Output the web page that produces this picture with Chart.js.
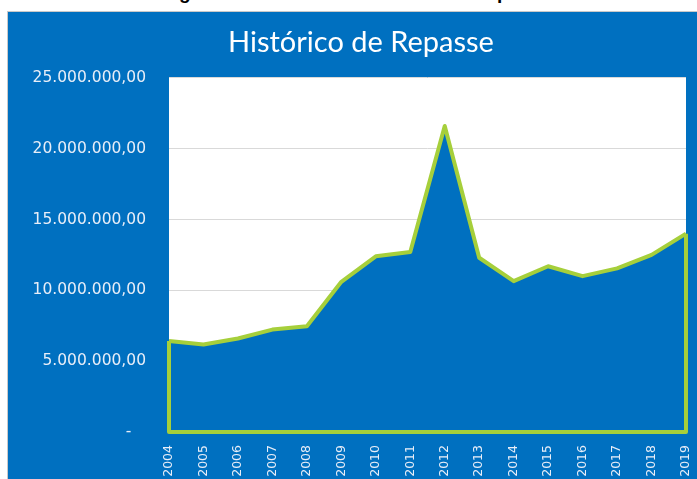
<!DOCTYPE html>
<html>
<head>
<meta charset="utf-8">
<script src="https://cdn.jsdelivr.net/npm/chart.js@4/dist/chart.umd.min.js"></script>
<style>
  body { margin: 0; background: #fff; width: 697px; height: 479px; overflow: hidden; position: relative; }
  #caption {
    position: absolute; left: 8px; width: 697px; top: -18px;
    text-align: center; font: bold 19px "Liberation Sans", Arial, sans-serif; color: #000;
  }
  #box {
    position: absolute; left: 7px; top: 11px; width: 707px; height: 468px;
    border-left: 1px solid #c9c9c9; border-top: 1px solid #c9c9c9; background: #0070c0;
  }
  #repasseChart { position: absolute; left: 0; top: 0; }
</style>
</head>
<body>
<div id="caption">Figura 1 – Gráfico do Histórico de Repasse</div>
<div id="box"><canvas id="repasseChart" width="706" height="467"></canvas></div>
<script>
// Valores (R$)
const years = ['2004', '2005', '2006', '2007', '2008', '2009', '2010', '2011',
               '2012', '2013', '2014', '2015', '2016', '2017', '2018', '2019'];
const repasse = [6430000, 6170000, 6600000, 7230000, 7460000, 10600000, 12400000, 12700000,
                 21600000, 12300000, 10650000, 11700000, 11000000, 11550000, 12500000, 14000000];
const yMax = 25000000;
const yStep = 5000000;

const blue = '#0070c0';
const green = '#a6cf3b';
const labelColor = '#e8eef8';

// 25000000 -> "25.000.000,00", zero vira "-"
function formatBRL(v) {
  if (v === 0) return '-   ';
  const s = Math.round(v).toString().replace(/\B(?=(\d{3})+(?!\d))/g, '.');
  return s + ',00';
}

// fundo branco só na área do gráfico
const plotBackground = {
  id: 'plotBackground',
  beforeDraw(chart) {
    const { ctx, chartArea } = chart;
    ctx.save();
    ctx.fillStyle = '#fff';
    ctx.fillRect(chartArea.left, chartArea.top, chartArea.right - chartArea.left, chartArea.bottom - chartArea.top);
    ctx.restore();
  }
};

// contorno da área: laterais e base, como no Excel
const areaOutline = {
  id: 'areaOutline',
  afterDatasetsDraw(chart) {
    const pts = chart.getDatasetMeta(0).data;
    if (!pts.length) return;
    const base = chart.scales.y.getPixelForValue(0);
    const first = pts[0], last = pts[pts.length - 1];
    const ctx = chart.ctx;
    ctx.save();
    ctx.strokeStyle = green;
    ctx.lineWidth = 4;
    ctx.lineJoin = 'round';
    ctx.beginPath();
    ctx.moveTo(first.x, first.y);
    ctx.lineTo(first.x, base);
    ctx.lineTo(last.x, base);
    ctx.lineTo(last.x, last.y);
    ctx.stroke();
    ctx.restore();
  }
};

const ctx = document.getElementById('repasseChart').getContext('2d');
new Chart(ctx, {
  type: 'line',
  data: {
    labels: years,
    datasets: [{
      label: 'Repasse',
      data: repasse,
      fill: 'origin',
      backgroundColor: blue,
      borderColor: green,
      borderWidth: 4,
      borderJoinStyle: 'round',
      pointRadius: 0,
      tension: 0
    }]
  },
  options: {
    responsive: false,
    animation: false,
    devicePixelRatio: 1,
    layout: { padding: 0 },
    plugins: {
      legend: { display: false },
      tooltip: { enabled: false },
      title: {
        display: true,
        text: 'Histórico de Repasse',
        color: '#ffffff',
        font: { family: 'Lato', size: 29, weight: 'normal' },
        padding: { top: 13, bottom: 18 }
      }
    },
    scales: {
      x: {
        offset: false,
        grid: { display: false },
        border: { display: false },
        ticks: {
          color: labelColor,
          font: { family: 'DejaVu Sans', size: 12.5 },
          minRotation: 90,
          maxRotation: 90,
          autoSkip: false,
          padding: 5
        },
        afterFit(scale) {
          // espaço à direita fica por conta do eixo, não do layout (título continua centrado na caixa)
          scale.height = 47;
          scale.paddingLeft = 0;
          scale.paddingRight = 28;
        }
      },
      y: {
        min: 0,
        max: yMax,
        grid: { color: '#d9d9d9', drawTicks: false },
        border: { display: false },
        ticks: {
          stepSize: yStep,
          color: labelColor,
          font: { family: 'DejaVu Sans', size: 15.5 },
          padding: 23,
          callback: v => formatBRL(v)
        },
        afterFit(scale) { scale.width = 161; }
      }
    }
  },
  plugins: [plotBackground, areaOutline]
});
</script>
</body>
</html>
